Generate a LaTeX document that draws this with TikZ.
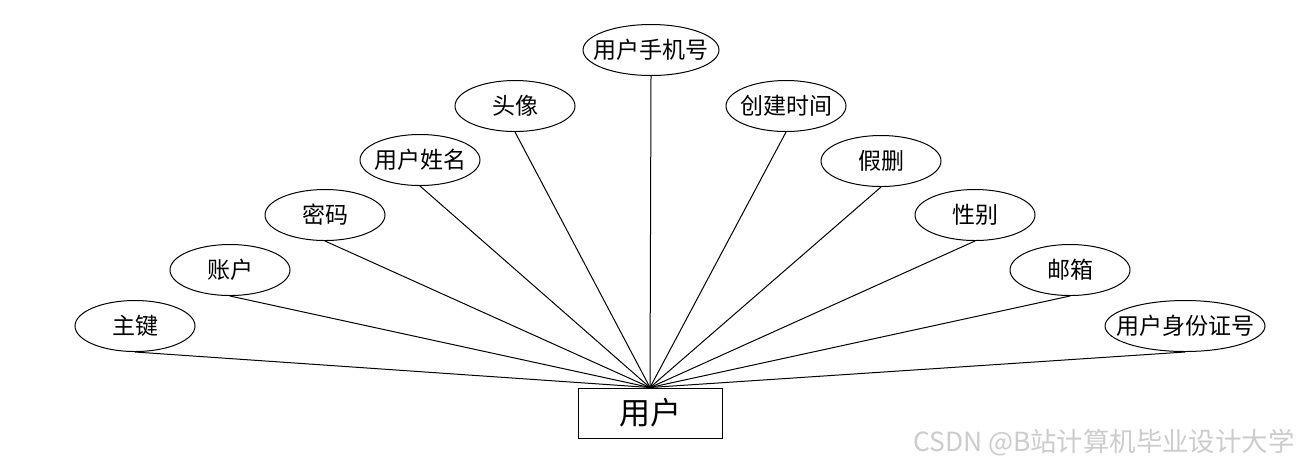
\documentclass[tikz,border=0pt]{standalone}
\usepackage{fontspec}
\setmainfont{Noto Sans CJK SC}
\usetikzlibrary{shapes.geometric}
\newcommand\T[1]{\makebox[0pt]{#1}}

\begin{document}
\begin{tikzpicture}[x=0.5pt,y=-0.5pt,line width=0.5pt]

  \tikzstyle{attr}=[ellipse,draw,minimum width=60pt,minimum height=25.5pt,
                    inner sep=0pt,font=\fontsize{11.5}{13}\selectfont]
  \tikzstyle{entity}=[rectangle,draw,minimum width=72pt,minimum height=25pt,
                      font=\fontsize{15.5}{18}\selectfont]

  \useasboundingbox (0,0) rectangle (1300,468);

  \node[entity] (YH) at (650,413)  {用户};

  \node[attr] (ZJ) at (135,326)  {\T{主键}};
  \node[attr] (ZH) at (230,270)  {\T{账户}};
  \node[attr] (MM) at (325,215)  {\T{密码}};
  \node[attr] (XM) at (420,160)  {\T{用户姓名}};
  \node[attr] (TX) at (515,106)  {\T{头像}};
  \node[attr,minimum width=68pt] (SJ) at (651,50) {\T{用户手机号}};
  \node[attr] (CJ) at (786,106)  {\T{创建时间}};
  \node[attr] (JS) at (881,161)  {\T{假删}};
  \node[attr] (XB) at (975,215)  {\T{性别}};
  \node[attr] (YX) at (1070,270) {\T{邮箱}};
  \node[attr,minimum width=80pt] (SF) at (1185,326) {\T{用户身份证号}};

  %\node watermark
  \node[anchor=east,inner sep=0pt,text=gray!40,font=\fontsize{13.2}{15}\selectfont]
       (WM) at (1295,443) {CSDN @B站计算机毕业设计大学};

  \path
  (ZJ.south) edge (YH.north)
  (ZH.south) edge (YH.north)
  (MM.south) edge (YH.north)
  (XM.south) edge (YH.north)
  (TX.south) edge (YH.north)
  (SJ.south) edge (YH.north)
  (CJ.south) edge (YH.north)
  (JS.south) edge (YH.north)
  (XB.south) edge (YH.north)
  (YX.south) edge (YH.north)
  (SF.south) edge (YH.north)
  ;
\end{tikzpicture}
\end{document}
